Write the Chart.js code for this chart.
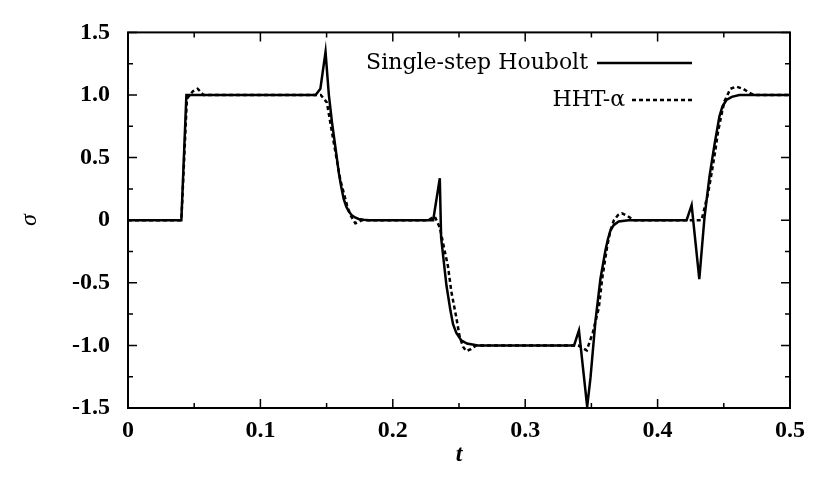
<!DOCTYPE html>
<html>
<head>
<meta charset="utf-8">
<script src="https://cdn.jsdelivr.net/npm/chart.js@4.4.0/dist/chart.umd.min.js"></script>
<style>
  html, body { margin: 0; padding: 0; background: #fff; }
  #wrap { width: 813px; height: 494px; position: relative; }
</style>
</head>
<body>
<div id="wrap"><canvas id="sigmaChart"></canvas></div>
<script>
// Single-step Houbolt (solid)
const tHoubolt = [0, 0.0403, 0.0441, 0.1417, 0.1453, 0.1492, 0.1517, 0.1541, 0.1567, 0.1592, 0.161, 0.1629, 0.1648, 0.1667, 0.169, 0.1715, 0.1742, 0.178, 0.182,
  0.2267, 0.2305, 0.2355, 0.2365, 0.2405, 0.2435, 0.2455, 0.248, 0.2517, 0.256, 0.2643,
  0.3369, 0.3406, 0.3468, 0.3493, 0.3531, 0.3568, 0.3606, 0.3625, 0.3643, 0.3668, 0.3706, 0.378,
  0.4219, 0.4257, 0.4315, 0.4354, 0.4392, 0.4429, 0.4467, 0.449, 0.452, 0.456, 0.4617, 0.5];
const sigmaHoubolt = [0, 0, 1.0, 1.0, 1.05, 1.345, 1.0, 0.78, 0.58, 0.38, 0.27, 0.17, 0.11, 0.07, 0.04, 0.022, 0.01, 0.003, 0,
  0, 0, 0.335, -0.14, -0.52, -0.72, -0.83, -0.90, -0.96, -0.985, -1.0,
  -1.0, -0.88, -1.49, -1.26, -0.80, -0.47, -0.24, -0.15, -0.085, -0.04, -0.01, 0,
  0, 0.12, -0.47, 0.02, 0.35, 0.6, 0.83, 0.91, 0.96, 0.985, 1.0, 1.0];

// HHT-alpha (dashed)
const tHHT = [0, 0.0403, 0.0445, 0.049, 0.0526, 0.057, 0.1456, 0.1502, 0.1554, 0.1604, 0.1654, 0.168, 0.1717, 0.1745, 0.1764,
  0.2267, 0.2317, 0.2355, 0.2417, 0.2442, 0.248, 0.2505, 0.253, 0.2555, 0.259, 0.2628,
  0.340, 0.3465, 0.351, 0.3556, 0.3581, 0.3619, 0.3643, 0.367, 0.370, 0.3731, 0.377, 0.3819,
  0.4332, 0.4382, 0.4407, 0.4432, 0.4457, 0.4482, 0.4505, 0.455, 0.4595, 0.4645, 0.469, 0.473, 0.5];
const sigmaHHT = [0, 0, 0.97, 1.03, 1.05, 1.0, 1.0, 0.94, 0.62, 0.32, 0.12, 0.04, -0.025, -0.015, 0,
  0, 0.03, -0.06, -0.37, -0.57, -0.78, -0.93, -1.01, -1.045, -1.03, -1.0,
  -1.0, -1.04, -0.9, -0.70, -0.47, -0.21, -0.085, 0, 0.04, 0.055, 0.035, 0,
  0, 0.22, 0.37, 0.53, 0.71, 0.84, 0.95, 1.05, 1.067, 1.05, 1.02, 1.0, 1.0];

const xTicks = [0, 0.1, 0.2, 0.3, 0.4, 0.5];
const yTicks = [-1.5, -1.0, -0.5, 0, 0.5, 1.0, 1.5];

function toPoints(xs, ys) {
  return xs.map((x, i) => ({ x: x, y: ys[i] }));
}

function fmt(v) {
  return Math.abs(v) < 1e-9 ? '0' : v.toFixed(1);
}

// frame, inward ticks, key and axis titles in the gnuplot look
const framePlugin = {
  id: 'frame',
  afterDraw(chart) {
    const c = chart.ctx;
    const a = chart.chartArea;
    const xs = chart.scales.x, ys = chart.scales.y;
    c.save();
    c.strokeStyle = '#000';
    c.lineWidth = 2;
    c.strokeRect(a.left, a.top, a.right - a.left, a.bottom - a.top);

    c.lineWidth = 1.5;
    c.beginPath();
    for (let i = 0; i < xTicks.length; i++) {
      const px = xs.getPixelForValue(xTicks[i]);
      c.moveTo(px, a.bottom); c.lineTo(px, a.bottom - 9);
      c.moveTo(px, a.top); c.lineTo(px, a.top + 9);
      if (i < xTicks.length - 1) {
        const pm = xs.getPixelForValue((xTicks[i] + xTicks[i + 1]) / 2);
        c.moveTo(pm, a.bottom); c.lineTo(pm, a.bottom - 5);
        c.moveTo(pm, a.top); c.lineTo(pm, a.top + 5);
      }
    }
    for (let i = 0; i < yTicks.length; i++) {
      const py = ys.getPixelForValue(yTicks[i]);
      c.moveTo(a.left, py); c.lineTo(a.left + 9, py);
      c.moveTo(a.right, py); c.lineTo(a.right - 9, py);
      if (i < yTicks.length - 1) {
        const pm = ys.getPixelForValue((yTicks[i] + yTicks[i + 1]) / 2);
        c.moveTo(a.left, pm); c.lineTo(a.left + 5, pm);
        c.moveTo(a.right, pm); c.lineTo(a.right - 5, pm);
      }
    }
    c.stroke();

    // key
    const key = [
      { textEnd: 588, lineFrom: 597, lineTo: 692, y: 63 },
      { textEnd: 625, lineFrom: 632, lineTo: 693, y: 100 }
    ];
    c.fillStyle = '#000';
    c.font = '22px "DejaVu Serif"';
    c.textAlign = 'right';
    c.textBaseline = 'middle';
    chart.data.datasets.forEach((ds, i) => {
      const k = key[i];
      c.fillText(ds.label, k.textEnd, k.y);
      c.lineWidth = ds.borderWidth;
      c.setLineDash(ds.borderDash || []);
      c.beginPath();
      c.moveTo(k.lineFrom, k.y);
      c.lineTo(k.lineTo, k.y);
      c.stroke();
    });
    c.setLineDash([]);

    // axis titles
    c.textAlign = 'center';
    c.font = 'bold italic 24px "Liberation Serif"';
    c.fillText('t', (a.left + a.right) / 2, 455);
    c.translate(30, (a.top + a.bottom) / 2);
    c.rotate(-Math.PI / 2);
    c.font = 'italic 24px "Liberation Serif"';
    c.fillText('σ', 0, 0);
    c.restore();
  }
};

const ctx = document.getElementById('sigmaChart').getContext('2d');
const sigmaChart = new Chart(ctx, {
  type: 'line',
  data: {
    datasets: [
      {
        label: 'Single-step Houbolt',
        data: toPoints(tHoubolt, sigmaHoubolt),
        borderColor: '#000',
        borderWidth: 2.5,
        pointRadius: 0,
        tension: 0,
        fill: false
      },
      {
        label: 'HHT-α',
        data: toPoints(tHHT, sigmaHHT),
        borderColor: '#000',
        borderWidth: 2.5,
        borderDash: [4, 3],
        pointRadius: 0,
        tension: 0,
        fill: false
      }
    ]
  },
  options: {
    responsive: true,
    maintainAspectRatio: false,
    animation: false,
    layout: { padding: { left: 0, right: 19, top: 17, bottom: 0 } },
    plugins: {
      legend: { display: false },
      tooltip: { enabled: false }
    },
    scales: {
      x: {
        type: 'linear',
        min: 0,
        max: 0.5,
        afterBuildTicks: (s) => { s.ticks = xTicks.map(v => ({ value: v })); },
        afterFit: (s) => { s.height = 86; },
        ticks: {
          callback: fmt,
          color: '#000',
          padding: 8,
          maxRotation: 0,
          autoSkip: false,
          font: { family: '"Liberation Serif"', size: 24, weight: 'bold' }
        },
        grid: { display: false, drawTicks: false },
        border: { display: false }
      },
      y: {
        type: 'linear',
        min: -1.5,
        max: 1.5,
        afterBuildTicks: (s) => { s.ticks = yTicks.map(v => ({ value: v })); },
        afterFit: (s) => { s.width = 128; },
        ticks: {
          callback: fmt,
          color: '#000',
          padding: 18,
          autoSkip: false,
          font: { family: '"Liberation Serif"', size: 24, weight: 'bold' }
        },
        grid: { display: false, drawTicks: false },
        border: { display: false }
      }
    }
  },
  plugins: [framePlugin]
});
</script>
</body>
</html>
